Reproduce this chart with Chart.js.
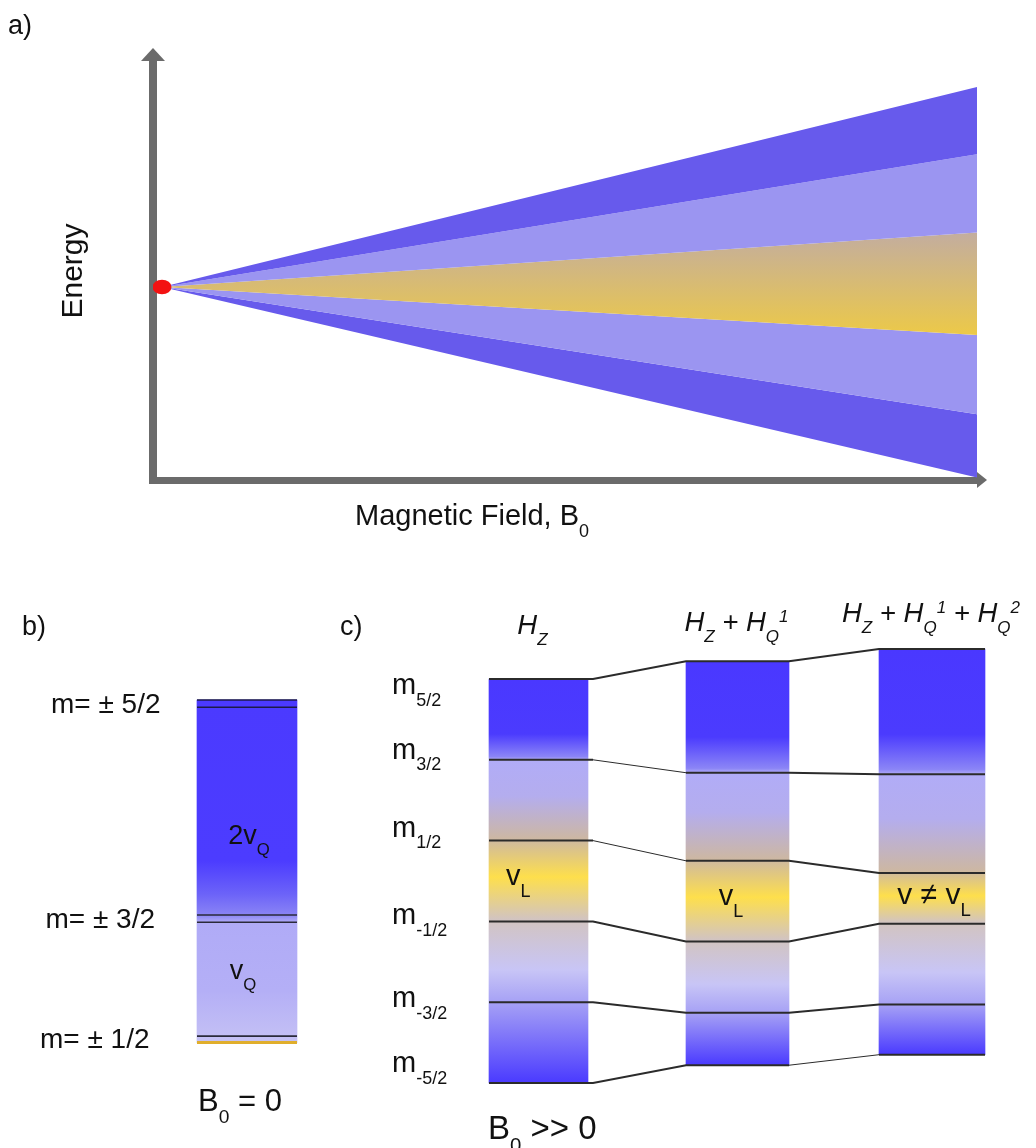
<!DOCTYPE html>
<html>
<head>
<meta charset="utf-8">
<title>Energy levels</title>
<script src="https://cdn.jsdelivr.net/npm/chart.js@4.4.1/dist/chart.umd.min.js"></script>
<style>
  body { margin: 0; background: #fff; }
  #wrap { position: relative; width: 1036px; height: 1148px; }
  canvas { position: absolute; left: 0; }
  #fan { top: 0; }
  #levels { top: 560px; }
</style>
</head>
<body>
<div id="wrap">
  <canvas id="fan" width="1036" height="560"></canvas>
  <canvas id="levels" width="1036" height="588"></canvas>
</div>
<script>
// energies in units of the Larmor splitting
const fieldRange = [0, 1];
const fanEdgeEnergies = [2.5, 1.66, 0.68, -0.6, -1.59, -2.38];

const spinLabels = ['5/2', '3/2', '1/2', '-1/2', '-3/2', '-5/2'];
const zeroFieldLabels = ['m= ± 5/2', 'm= ± 3/2', 'm= ± 1/2'];
const zeroFieldLevels = [2.24, 2.15, -0.42, -0.51, -1.92, -2.0];
const zeemanLevels = [2.5, 1.5, 0.5, -0.5, -1.5, -2.5];
const firstOrderLevels = [2.72, 1.34, 0.25, -0.75, -1.63, -2.28];
const secondOrderLevels = [2.87, 1.32, 0.10, -0.53, -1.53, -2.15];

// look & layout
const FONT = "'Liberation Sans', Arial, Helvetica, sans-serif";
const DARK = '#675aec', LIGHT = '#9b95f1';
const TOP_B = 560;
const colB = { left: 197, right: 297 };
const colsC = [
  { left: 489, right: 588, lineEnd: 593 },
  { left: 686, right: 789, lineEnd: 789 },
  { left: 879, right: 985, lineEnd: 985 }
];
const mLabelShift = [15, -1, -4, 3, 5, -11];

const zeemanStops = [[0, '#4a38ff'], [0.68, '#4b3bfe'], [0.96, '#8b85f6'], [1, '#b1acf7'], [1.45, '#b4adee'],
  [1.97, '#ccb7a4'], [2.45, '#fedf4c'], [2.97, '#d2c4c0'], [3.6, '#c8c5f6'], [4, '#a6a1f5'], [5, '#4a3aff']];
const zeroFieldStops = [[0, '#4b3aff'], [1.74, '#4c3cff'], [1.9, '#6c63f8'], [2, '#8a84f5'], [3, '#b0abf7'],
  [3.6, '#b4aff6'], [4, '#c3bff5'], [5, '#c6c2f4']];

function rich(ctx, parts, x, y, size, align, italic) {
  const st = italic ? 'italic ' : '';
  const spec = parts.map(p => {
    const kind = p[1] || 0;
    const fs = kind ? size * 0.62 : size;
    ctx.font = st + fs + 'px ' + FONT;
    return { t: p[0], fs, dy: kind === 1 ? size * 0.4 : kind === 2 ? -size * 0.32 : 0, w: ctx.measureText(p[0]).width };
  });
  const total = spec.reduce((s, p) => s + p.w, 0);
  let cx = align === 'center' ? x - total / 2 : align === 'right' ? x - total : x;
  ctx.textAlign = 'left';
  ctx.textBaseline = 'alphabetic';
  ctx.fillStyle = '#111';
  spec.forEach(p => {
    ctx.font = st + p.fs + 'px ' + FONT;
    ctx.fillText(p.t, cx, y + p.dy);
    cx += p.w;
  });
}

// ---------- a) fan chart ----------
const dot = document.createElement('canvas');
dot.width = 20; dot.height = 16;
const dctx = dot.getContext('2d');
dctx.fillStyle = '#f31212';
dctx.beginPath(); dctx.ellipse(10, 8, 9.5, 7.3, 0, 0, Math.PI * 2); dctx.fill();

function yellowBand(c) {
  const chart = c.chart;
  if (!chart.chartArea) return '#d8bc72';
  const y = chart.scales.y;
  const g = chart.ctx.createLinearGradient(0, y.getPixelForValue(fanEdgeEnergies[2]), 0, y.getPixelForValue(fanEdgeEnergies[3]));
  g.addColorStop(0, '#c3ad9f');
  g.addColorStop(1, '#ecc948');
  return g;
}
const bandColors = [DARK, LIGHT, yellowBand, LIGHT, DARK];

const fanSets = fanEdgeEnergies.map((e, i) => ({
  data: [{ x: fieldRange[0], y: 0 }, { x: fieldRange[1], y: e }],
  borderColor: 'rgba(0,0,0,0)', borderWidth: 0, pointRadius: 0,
  fill: i < fanEdgeEnergies.length - 1 ? '+1' : false,
  backgroundColor: bandColors[i] || 'transparent',
  order: 1
}));
fanSets.push({
  data: [{ x: fieldRange[0], y: 0 }],
  showLine: false, pointStyle: dot, pointRadius: 10, order: -1
});

const arrowAxes = {
  id: 'arrowAxes',
  beforeDatasetsDraw(chart) {
    const { ctx, chartArea: a } = chart;
    ctx.save();
    ctx.fillStyle = '#6b6b6b';
    ctx.fillRect(a.left - 4, a.top + 12, 8, a.bottom - a.top - 8);
    ctx.beginPath();
    ctx.moveTo(a.left, a.top); ctx.lineTo(a.left - 12, a.top + 13); ctx.lineTo(a.left + 12, a.top + 13);
    ctx.closePath(); ctx.fill();
    ctx.fillRect(a.left - 4, a.bottom - 3, a.right - a.left - 4, 7);
    ctx.beginPath();
    ctx.moveTo(a.right, a.bottom); ctx.lineTo(a.right - 10, a.bottom - 8); ctx.lineTo(a.right - 10, a.bottom + 8);
    ctx.closePath(); ctx.fill();
    ctx.restore();
  },
  afterDraw(chart) {
    const ctx = chart.ctx;
    ctx.save();
    rich(ctx, [['a)']], 8, 34, 27, 'left');
    rich(ctx, [['Magnetic Field, B'], ['0', 1]], 355, 525, 29, 'left');
    ctx.translate(82, 271);
    ctx.rotate(-Math.PI / 2);
    rich(ctx, [['Energy']], 0, 0, 30, 'center');
    ctx.restore();
  }
};

new Chart(document.getElementById('fan'), {
  type: 'line',
  data: { datasets: fanSets },
  options: {
    responsive: false, animation: false, events: [],
    layout: { padding: { left: 153, right: 49, top: 48, bottom: 80 } },
    scales: {
      x: { type: 'linear', min: -0.011, max: 1.0123, display: false },
      y: { type: 'linear', min: -2.4125, max: 2.9875, display: false }
    },
    plugins: { legend: { display: false }, tooltip: { enabled: false } }
  },
  plugins: [arrowAxes]
});

// ---------- b) and c) level diagrams ----------
function columnFill(levels, stops) {
  return c => {
    const chart = c.chart;
    if (!chart.chartArea) return '#8a84f5';
    const y = chart.scales.y;
    const px = f => {
      const i = Math.min(Math.floor(f), levels.length - 2);
      const t = f - i;
      return y.getPixelForValue(levels[i] + (levels[i + 1] - levels[i]) * t);
    };
    const top = px(0), bottom = px(levels.length - 1);
    const g = chart.ctx.createLinearGradient(0, top, 0, bottom);
    stops.forEach(s => g.addColorStop(Math.max(0, Math.min(1, (px(s[0]) - top) / (bottom - top))), s[1]));
    return g;
  };
}

function barFor(col, levels, stops) {
  return {
    type: 'bar', grouped: false, order: 3,
    data: [{ x: (col.left + col.right) / 2, y: [levels[levels.length - 1], levels[0]] }],
    barThickness: col.right - col.left, borderWidth: 0,
    backgroundColor: columnFill(levels, stops)
  };
}

const cLevelSets = [zeemanLevels, firstOrderLevels, secondOrderLevels];
const thinLinks = { '1-1': 1, '2-1': 1, '5-3': 1 };
const levelSets = [];

zeroFieldLevels.forEach((e, k) => {
  const gold = k === zeroFieldLevels.length - 1;
  levelSets.push({
    type: 'line', order: 1, pointRadius: 0, fill: false,
    borderColor: gold ? '#e0ae2c' : (k < 2 ? '#1c1a48' : '#2a2a3a'),
    borderWidth: gold ? 3 : 1.6,
    data: [{ x: colB.left, y: e }, { x: colB.right, y: e }]
  });
});

spinLabels.forEach((lab, k) => {
  const pts = [];
  colsC.forEach((col, j) => {
    pts.push({ x: col.left, y: cLevelSets[j][k] });
    pts.push({ x: col.lineEnd, y: cLevelSets[j][k] });
  });
  levelSets.push({
    type: 'line', order: 1, pointRadius: 0, fill: false,
    borderColor: '#2b2b2b', borderWidth: 2,
    segment: { borderWidth: s => thinLinks[k + '-' + s.p0DataIndex] || 2 },
    data: pts
  });
});

const levelText = {
  id: 'levelText',
  afterDraw(chart) {
    const ctx = chart.ctx;
    const y = chart.scales.y;
    const py = v => y.getPixelForValue(v);
    const lerp = (a, b, t) => py(a + (b - a) * t);
    ctx.save();
    rich(ctx, [['b)']], 22, 635 - TOP_B, 27, 'left');
    rich(ctx, [['c)']], 340, 635 - TOP_B, 27, 'left');

    zeroFieldLabels.forEach((lab, i) => {
      const mid = (py(zeroFieldLevels[2 * i]) + py(zeroFieldLevels[2 * i + 1])) / 2;
      rich(ctx, [[lab]], 51 - 5.5 * i, mid + 9, 28, 'left');
    });
    const cb = (colB.left + colB.right) / 2;
    rich(ctx, [['2v'], ['Q', 1]], cb + 2, lerp(zeroFieldLevels[1], zeroFieldLevels[2], 0.66), 27, 'center');
    rich(ctx, [['v'], ['Q', 1]], cb - 4, lerp(zeroFieldLevels[3], zeroFieldLevels[4], 0.5), 27, 'center');
    rich(ctx, [['B'], ['0', 1], [' = 0']], 198, 1111 - TOP_B, 31, 'left');

    spinLabels.forEach((lab, k) => {
      rich(ctx, [['m'], [lab, 1]], 392, py(zeemanLevels[k]) + mLabelShift[k], 29, 'left');
    });
    rich(ctx, [['B'], ['0', 1], [' >> 0']], 488, 1139 - TOP_B, 33, 'left');

    const titles = [
      [['H'], ['Z', 1]],
      [['H'], ['Z', 1], [' + H'], ['Q', 1], ['1', 2]],
      [['H'], ['Z', 1], [' + H'], ['Q', 1], ['1', 2], [' + H'], ['Q', 1], ['2', 2]]
    ];
    const titleY = [634, 631, 622];
    colsC.forEach((col, j) => {
      rich(ctx, titles[j], (col.left + col.right) / 2 - (j === 0 ? 6 : 1), titleY[j] - TOP_B, 27.5, 'center', true);
      const lv = cLevelSets[j];
      const yl = lerp(lv[2], lv[3], 0.45) + 8;
      if (j === 0) rich(ctx, [['v'], ['L', 1]], 506, yl, 29, 'left');
      else if (j === 1) rich(ctx, [['v'], ['L', 1]], 731, yl, 29, 'center');
      else rich(ctx, [['v ≠ v'], ['L', 1]], 934, yl, 30, 'center');
    });
    ctx.restore();
  }
};

new Chart(document.getElementById('levels'), {
  type: 'bar',
  data: {
    datasets: [
      barFor(colB, zeroFieldLevels, zeroFieldStops),
      barFor(colsC[0], zeemanLevels, zeemanStops),
      barFor(colsC[1], firstOrderLevels, zeemanStops),
      barFor(colsC[2], secondOrderLevels, zeemanStops)
    ].concat(levelSets)
  },
  options: {
    responsive: false, animation: false, events: [],
    layout: { padding: 0 },
    scales: {
      x: { type: 'linear', min: 0, max: 1036, offset: false, display: false },
      y: { type: 'linear', min: -3.3045, max: 3.9728, display: false }
    },
    plugins: { legend: { display: false }, tooltip: { enabled: false } }
  },
  plugins: [levelText]
});
</script>
</body>
</html>
